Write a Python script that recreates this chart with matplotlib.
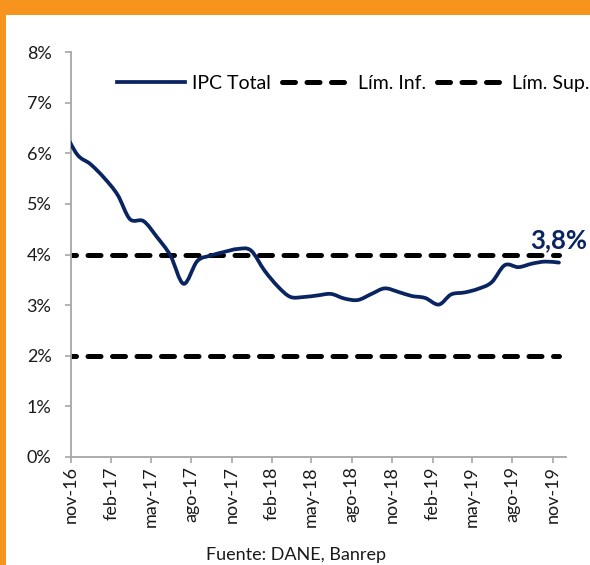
import datetime as dt
import matplotlib
matplotlib.use("Agg")
import matplotlib.pyplot as plt
import matplotlib.dates as mdates
from matplotlib.path import Path
from matplotlib.patches import PathPatch, Rectangle
from matplotlib.lines import Line2D

plt.rcParams['font.family'] = ['Lato', 'DejaVu Sans']

# monthly data, oct-16 .. nov-19 (oct-16 falls left of the axis and is clipped)
months = [(2016, 10), (2016, 11), (2016, 12),
          (2017, 1), (2017, 2), (2017, 3), (2017, 4), (2017, 5), (2017, 6),
          (2017, 7), (2017, 8), (2017, 9), (2017, 10), (2017, 11), (2017, 12),
          (2018, 1), (2018, 2), (2018, 3), (2018, 4), (2018, 5), (2018, 6),
          (2018, 7), (2018, 8), (2018, 9), (2018, 10), (2018, 11), (2018, 12),
          (2019, 1), (2019, 2), (2019, 3), (2019, 4), (2019, 5), (2019, 6),
          (2019, 7), (2019, 8), (2019, 9), (2019, 10), (2019, 11)]
ipc_total = [6.48, 5.98, 5.79,
             5.52, 5.18, 4.70, 4.66, 4.35, 3.98,
             3.42, 3.87, 3.98, 4.05, 4.11, 4.08,
             3.68, 3.36, 3.16, 3.16, 3.19, 3.22,
             3.13, 3.10, 3.22, 3.33, 3.26, 3.18,
             3.14, 3.01, 3.21, 3.25, 3.32, 3.45,
             3.79, 3.75, 3.82, 3.86, 3.84]
lim_inf = [4.0] * len(months)
lim_sup = [2.0] * len(months)

tick_months = [(2016, 11), (2017, 2), (2017, 5), (2017, 8), (2017, 11),
               (2018, 2), (2018, 5), (2018, 8), (2018, 11),
               (2019, 2), (2019, 5), (2019, 8), (2019, 11)]
tick_labels = ['nov-16', 'feb-17', 'may-17', 'ago-17', 'nov-17',
               'feb-18', 'may-18', 'ago-18', 'nov-18',
               'feb-19', 'may-19', 'ago-19', 'nov-19']
last_label = '3,8%'

navy = '#0A2461'
orange = '#F7941D'
gray = '#A6A6A6'

x = [mdates.date2num(dt.date(y, m, 15)) for y, m in months]


def smooth_path(xs, ys):
    # Excel-like smoothed line: catmull-rom segments as cubic bezier
    pts = list(zip(xs, ys))
    verts = [pts[0]]
    codes = [Path.MOVETO]
    n = len(pts)
    for i in range(n - 1):
        p0 = pts[i - 1] if i > 0 else pts[i]
        p1 = pts[i]
        p2 = pts[i + 1]
        p3 = pts[i + 2] if i + 2 < n else pts[i + 1]
        c1 = (p1[0] + (p2[0] - p0[0]) / 6, p1[1] + (p2[1] - p0[1]) / 6)
        c2 = (p2[0] - (p3[0] - p1[0]) / 6, p2[1] - (p3[1] - p1[1]) / 6)
        verts += [c1, c2, p2]
        codes += [Path.CURVE4] * 3
    return Path(verts, codes)


fig = plt.figure(figsize=(5.9, 5.65), dpi=100)
ax = fig.add_axes([0.1203, 0.1917, 0.8390, 0.7157])

patch = PathPatch(smooth_path(x, ipc_total), facecolor='none', edgecolor=navy,
                  lw=2.7, capstyle='round', joinstyle='round', zorder=3)
ax.add_patch(patch)

dash_kw = dict(color='black', lw=3.6, dashes=(2.6, 2.3),
               dash_capstyle='round', zorder=2)
ax.plot(x, lim_inf, **dash_kw)
ax.plot(x, lim_sup, **dash_kw)

ax.annotate(last_label, (x[-1], ipc_total[-1]), xytext=(0, 16),
            textcoords='offset points', ha='center', va='center',
            fontsize=18.5, fontweight='bold', color=navy, annotation_clip=False)

ax.set_xlim(mdates.date2num(dt.date(2016, 11, 1)), mdates.date2num(dt.date(2019, 12, 1)))
ax.set_ylim(0, 8)
ax.set_xticks([mdates.date2num(dt.date(y, m, 1)) for y, m in tick_months])
ax.set_xticklabels(tick_labels, rotation=90)
ax.set_yticks(range(0, 9))
ax.set_yticklabels([f'{v}%' for v in range(0, 9)])

for side in ['top', 'right']:
    ax.spines[side].set_visible(False)
for side in ['left', 'bottom']:
    ax.spines[side].set_color(gray)
    ax.spines[side].set_linewidth(1.3)
ax.tick_params(axis='both', colors=gray, length=4, width=1.2, labelcolor='#1a1a1a',
               labelsize=13)
ax.tick_params(axis='y', pad=10)
ax.tick_params(axis='x', pad=3)

handles = [Line2D([], [], color=navy, lw=2.7),
           Line2D([], [], **dash_kw),
           Line2D([], [], **dash_kw)]
fig.legend(handles, ['IPC Total', 'Lím. Inf.', 'Lím. Sup.'], ncol=3,
           loc='center right', bbox_to_anchor=(1.0, 0.853), frameon=False,
           fontsize=14, handlelength=3.5, handletextpad=0.4,
           columnspacing=0.55, borderpad=0, borderaxespad=0)

fig.text(0.502, 0.004, 'Fuente: DANE, Banrep', ha='center', va='bottom',
         fontsize=13, color='#1a1a1a')

# orange frame of the slide box
fig.add_artist(Rectangle((0, 1 - 15 / 565), 1, 15 / 565, transform=fig.transFigure,
                         facecolor=orange, edgecolor='none'))
fig.add_artist(Rectangle((0, 0), 6 / 590, 1, transform=fig.transFigure,
                         facecolor=orange, edgecolor='none'))

fig.savefig('out.png', dpi=100)
